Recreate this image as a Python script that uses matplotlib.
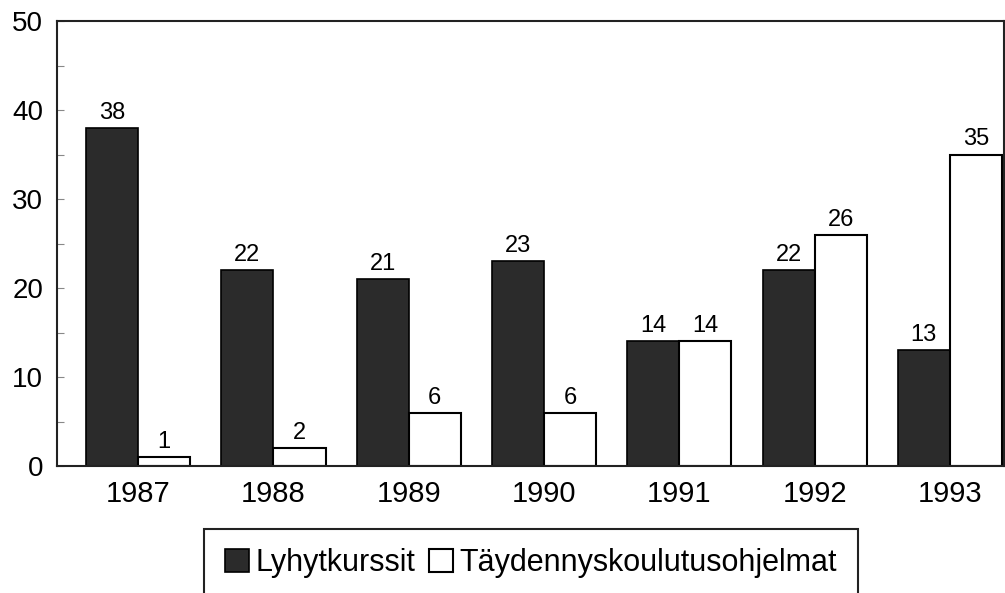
import matplotlib
matplotlib.use("Agg")
import matplotlib.pyplot as plt
from matplotlib.patches import Rectangle, Patch
from matplotlib.ticker import MultipleLocator
import numpy as np

years = ["1987", "1988", "1989", "1990", "1991", "1992", "1993"]
lyhytkurssit = [38, 22, 21, 23, 14, 22, 13]
taydennys = [1, 2, 6, 6, 14, 26, 35]
series_names = ["Lyhytkurssit", "Täydennyskoulutusohjelmat"]

plt.rcParams['font.family'] = ['Liberation Sans', 'DejaVu Sans']

W, H = 1005, 593
fig = plt.figure(figsize=(W/100, H/100), dpi=100)
ax = fig.add_axes([57/W, 1-466/H, (1004-57)/W, (466-21)/H])

x = np.arange(len(years))
bw = 0.385
dark = '#2b2b2b'
b1 = ax.bar(x - bw/2, lyhytkurssit, bw, color=dark, edgecolor='black', linewidth=1.2)
b2 = ax.bar(x + bw/2, taydennys, bw, color='white', edgecolor='black', linewidth=1.5)

for rect, v in zip(b1, lyhytkurssit):
    ax.text(rect.get_x() + rect.get_width()/2, v + 0.45, str(v), ha='center', va='bottom', fontsize=17)
for rect, v in zip(b2, taydennys):
    ax.text(rect.get_x() + rect.get_width()/2, v + 0.45, str(v), ha='center', va='bottom', fontsize=17)

ax.set_xlim(-0.6, 6.4)
ax.set_ylim(0, 50)
ax.set_xticks(x)
ax.set_xticklabels(years, fontsize=21)
ax.set_yticks([0, 10, 20, 30, 40, 50])
ax.set_yticklabels(["0", "10", "20", "30", "40", "50"], fontsize=20)
ax.yaxis.set_minor_locator(MultipleLocator(5))
ax.tick_params(axis='y', which='major', direction='in', length=5, width=0.8, color='#888888', pad=10)
ax.tick_params(axis='y', which='minor', direction='in', length=5, width=0.8, color='#888888')
ax.tick_params(axis='x', which='both', length=0, pad=10)
for s in ax.spines.values():
    s.set_linewidth(1.5)
    s.set_color('#222222')

# legend box (truncated at bottom of image)
rect = Rectangle((204/W, -0.05), (858-204)/W, (1-529/H) + 0.05, transform=fig.transFigure,
                 facecolor='white', edgecolor='#222222', linewidth=1.5, clip_on=False)
fig.patches.append(rect)
handles = [Patch(facecolor=dark, edgecolor='black', linewidth=1.2),
           Patch(facecolor='white', edgecolor='black', linewidth=1.5)]
fig.legend(handles, series_names, loc='center', bbox_to_anchor=(531/W, 1-563/H),
           ncol=2, frameon=False, fontsize=22, handlelength=0.78, handleheight=0.78,
           handletextpad=0.2, columnspacing=0.45, borderpad=0)

fig.savefig("out.png", dpi=100)
